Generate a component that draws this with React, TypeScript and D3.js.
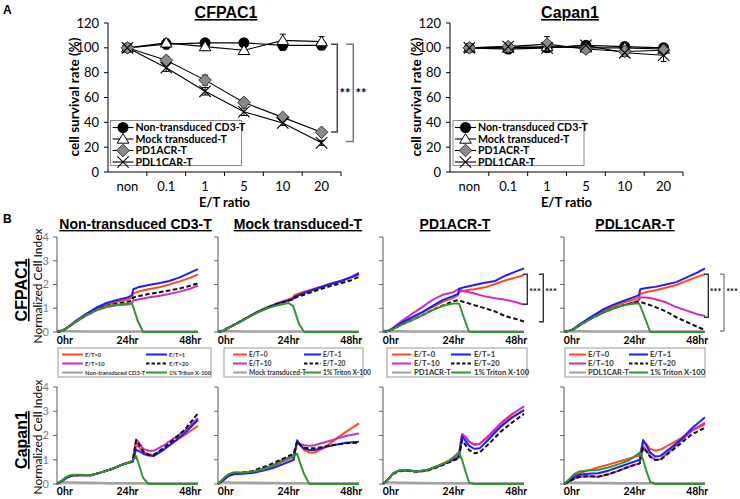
import React from 'react';
import * as d3 from 'd3';

// ---------------- Panel A data ----------------
const ratioLabels = ['non', '0.1', '1', '5', '10', '20'];
const seriesNamesA = ['Non-transduced CD3-T', 'Mock transduced-T', 'PD1ACR-T', 'PDL1CAR-T'];
const yTicksA = [0, 20, 40, 60, 80, 100, 120];

const cfpacNonTrans = [100, 103, 104, 104, 102, 102];
const cfpacNonTransErr = [2, 4, 3, 3, 4, 3];
const cfpacMock = [100, 104, 101, 98, 106, 105];
const cfpacMockErr = [3, 3, 3, 3, 5, 4];
const cfpacPD1ACR = [100, 90, 74, 56, 44, 32];
const cfpacPD1ACRErr = [2, 3, 4, 3, 2, 2];
const cfpacPDL1CAR = [100, 84, 65, 48.5, 39.5, 23.5];
const cfpacPDL1CARErr = [2, 3, 3, 3, 2, 2];

const capanNonTrans = [100, 99, 100, 102, 101, 100];
const capanNonTransErr = [3, 3, 3, 3, 3, 3];
const capanMock = [100, 100, 101, 100, 100, 99];
const capanMockErr = [3, 3, 3, 3, 3, 3];
const capanPD1ACR = [100, 101, 103, 99, 97, 98];
const capanPD1ACRErr = [3, 3, 6, 3, 3, 3];
const capanPDL1CAR = [100, 101, 100, 102, 96, 94];
const capanPDL1CARErr = [2, 3, 3, 3, 3, 5];

// ---------------- Panel B data ----------------
const colTitles = ['Non-transduced CD3-T', 'Mock transduced-T', 'PD1ACR-T', 'PDL1CAR-T'];
const etLabels = ['E/T=0', 'E/T=1', 'E/T=10', 'E/T=20'];
const tritonLabel = '1% Triton X-100';
const hourTicks = [0, 24, 48];
const ciTicks = [0, 1, 2, 3, 4];

const timeTop = [-3, -1, 0.5, 4, 8, 12, 16, 20, 24, 25.7, 26.2, 28, 30, 32, 36, 40, 44, 48, 51];
const timeBottom = [-3, -1, 1, 3, 6, 10, 14, 18, 22, 26, 27.3, 28.5, 30, 32, 34, 38, 42, 46, 51];

// CFPAC1 - Non-transduced CD3-T
const cfNonE0 = [0, 0.05, 0.15, 0.42, 0.72, 0.97, 1.15, 1.27, 1.36, 1.45, 1.62, 1.7, 1.75, 1.8, 1.88, 2.0, 2.13, 2.28, 2.42];
const cfNonE1 = [0, 0.05, 0.15, 0.45, 0.75, 1.02, 1.22, 1.35, 1.45, 1.55, 1.8, 1.88, 1.93, 1.98, 2.05, 2.15, 2.3, 2.5, 2.65];
const cfNonE10 = [0, 0.05, 0.14, 0.4, 0.68, 0.9, 1.05, 1.13, 1.16, 1.2, 1.33, 1.37, 1.41, 1.45, 1.52, 1.6, 1.7, 1.82, 1.95];
const cfNonE20 = [0, 0.05, 0.15, 0.42, 0.7, 0.93, 1.1, 1.2, 1.26, 1.32, 1.45, 1.5, 1.55, 1.6, 1.67, 1.75, 1.83, 1.95, 2.05];
const cfNonCtrl = [0.05, 0.05, 0.04, 0.03, 0.02, 0.02, 0.02, 0.02, 0.02, 0.02, 0.02, 0.02, 0.02, 0.02, 0.02, 0.02, 0.02, 0.02, 0.02];
const cfNonTriton = [0, 0.05, 0.15, 0.42, 0.7, 0.92, 1.08, 1.15, 1.2, 1.2, 1.05, 0.45, 0, 0, 0, 0, 0, 0, 0];

// CFPAC1 - Mock transduced-T
const cfMockE0 = [0, 0.05, 0.15, 0.35, 0.6, 0.85, 1.05, 1.22, 1.38, 1.45, 1.55, 1.62, 1.7, 1.76, 1.9, 2.03, 2.15, 2.3, 2.42];
const cfMockE1 = [0, 0.05, 0.15, 0.35, 0.6, 0.84, 1.03, 1.2, 1.33, 1.4, 1.48, 1.56, 1.65, 1.73, 1.88, 2.02, 2.15, 2.3, 2.45];
const cfMockE10 = [0, 0.05, 0.14, 0.33, 0.57, 0.82, 1.02, 1.19, 1.32, 1.38, 1.46, 1.55, 1.63, 1.71, 1.86, 2.0, 2.14, 2.32, 2.5];
const cfMockE20 = [0, 0.05, 0.15, 0.35, 0.6, 0.84, 1.03, 1.2, 1.32, 1.37, 1.43, 1.5, 1.57, 1.65, 1.8, 1.93, 2.05, 2.18, 2.32];
const cfMockCtrl = [0.04, 0.04, 0.03, 0.03, 0.02, 0.02, 0.02, 0.02, 0.02, 0.02, 0.02, 0.02, 0.02, 0.02, 0.02, 0.02, 0.02, 0.02, 0.02];
const cfMockTriton = [0, 0.05, 0.15, 0.34, 0.58, 0.82, 1.0, 1.13, 1.22, 1.1, 0.95, 0.35, 0, 0, 0, 0, 0, 0, 0];

// CFPAC1 - PD1ACR-T
const cfPD1E0 = [0, 0.05, 0.12, 0.36, 0.6, 0.82, 1.05, 1.28, 1.45, 1.55, 1.68, 1.74, 1.78, 1.8, 1.88, 2.02, 2.18, 2.3, 2.4];
const cfPD1E1 = [0, 0.05, 0.12, 0.38, 0.62, 0.84, 1.1, 1.35, 1.52, 1.6, 1.82, 1.88, 1.93, 1.98, 2.07, 2.15, 2.38, 2.55, 2.68];
const cfPD1E10 = [0, 0.05, 0.15, 0.45, 0.75, 1.05, 1.35, 1.57, 1.68, 1.8, 1.78, 1.72, 1.67, 1.62, 1.5, 1.42, 1.36, 1.25, 1.15];
const cfPD1E20 = [0, 0.04, 0.1, 0.3, 0.5, 0.7, 0.93, 1.12, 1.3, 1.34, 1.32, 1.26, 1.2, 1.13, 1.0, 0.86, 0.66, 0.55, 0.44];
const cfPD1Ctrl = [0.04, 0.04, 0.03, 0.03, 0.02, 0.02, 0.02, 0.02, 0.02, 0.02, 0.02, 0.02, 0.02, 0.02, 0.02, 0.02, 0.02, 0.02, 0.02];
const cfPD1Triton = [0, 0.04, 0.1, 0.3, 0.5, 0.7, 0.92, 1.1, 1.2, 1.2, 1.18, 0.6, 0, 0, 0, 0, 0, 0, 0];

// CFPAC1 - PDL1CAR-T
const cfPDL1E0 = [0, 0.05, 0.12, 0.38, 0.65, 0.9, 1.08, 1.24, 1.38, 1.45, 1.6, 1.66, 1.72, 1.76, 1.86, 1.98, 2.15, 2.32, 2.43];
const cfPDL1E1 = [0, 0.05, 0.12, 0.4, 0.68, 0.95, 1.15, 1.32, 1.48, 1.55, 1.8, 1.84, 1.87, 1.9, 2.0, 2.1, 2.3, 2.5, 2.68];
const cfPDL1E10 = [0, 0.05, 0.1, 0.35, 0.6, 0.82, 1.0, 1.13, 1.26, 1.35, 1.45, 1.45, 1.43, 1.38, 1.25, 1.05, 0.9, 0.75, 0.67];
const cfPDL1E20 = [0, 0.05, 0.1, 0.35, 0.6, 0.82, 1.0, 1.13, 1.24, 1.28, 1.27, 1.2, 1.13, 1.05, 0.87, 0.62, 0.42, 0.22, 0.08];
const cfPDL1Ctrl = [0.04, 0.04, 0.03, 0.03, 0.02, 0.02, 0.02, 0.02, 0.02, 0.02, 0.02, 0.02, 0.02, 0.02, 0.02, 0.02, 0.02, 0.02, 0.02];
const cfPDL1Triton = [0, 0.05, 0.1, 0.35, 0.6, 0.82, 1.0, 1.13, 1.2, 1.2, 1.1, 0.6, 0, 0, 0, 0, 0, 0, 0];

// Capan1 - Non-transduced CD3-T
const caNonE0 = [0, 0.15, 0.3, 0.36, 0.37, 0.36, 0.48, 0.62, 0.8, 0.96, 1.6, 1.5, 1.32, 1.22, 1.2, 1.45, 1.75, 2.02, 2.4];
const caNonE1 = [0, 0.12, 0.27, 0.35, 0.37, 0.36, 0.48, 0.62, 0.8, 0.93, 1.42, 1.35, 1.25, 1.17, 1.15, 1.42, 1.75, 2.1, 2.65];
const caNonE10 = [0, 0.15, 0.3, 0.36, 0.37, 0.36, 0.48, 0.62, 0.8, 0.95, 1.84, 1.7, 1.45, 1.37, 1.37, 1.6, 1.9, 2.2, 2.72];
const caNonE20 = [0, 0.15, 0.3, 0.36, 0.37, 0.36, 0.48, 0.62, 0.8, 0.92, 1.8, 1.6, 1.35, 1.22, 1.2, 1.5, 1.85, 2.25, 2.92];
const caNonCtrl = [0.06, 0.06, 0.06, 0.06, 0.05, 0.05, 0.04, 0.03, 0.03, 0.03, 0.03, 0.03, 0.03, 0.03, 0.03, 0.03, 0.03, 0.03, 0.03];
const caNonTriton = [0, 0.15, 0.32, 0.38, 0.38, 0.36, 0.48, 0.62, 0.8, 0.95, 1.15, 0.75, 0.25, 0, 0, 0, 0, 0, 0];

// Capan1 - Mock transduced-T
const caMockE0 = [0, 0.2, 0.38, 0.45, 0.45, 0.48, 0.58, 0.72, 0.92, 1.12, 1.75, 1.6, 1.4, 1.3, 1.3, 1.5, 1.85, 2.15, 2.5];
const caMockE1 = [0, 0.15, 0.33, 0.4, 0.42, 0.45, 0.55, 0.66, 0.82, 1.0, 1.8, 1.62, 1.45, 1.4, 1.4, 1.52, 1.62, 1.7, 1.74];
const caMockE10 = [0, 0.2, 0.38, 0.45, 0.45, 0.5, 0.62, 0.78, 1.0, 1.18, 1.72, 1.65, 1.6, 1.58, 1.6, 1.72, 1.85, 1.98, 2.08];
const caMockE20 = [0, 0.2, 0.38, 0.45, 0.47, 0.53, 0.68, 0.85, 1.05, 1.25, 1.75, 1.6, 1.5, 1.47, 1.47, 1.55, 1.62, 1.68, 1.7];
const caMockCtrl = [0.06, 0.06, 0.06, 0.05, 0.05, 0.05, 0.04, 0.04, 0.03, 0.03, 0.03, 0.03, 0.03, 0.03, 0.03, 0.03, 0.03, 0.03, 0.03];
const caMockTriton = [0, 0.22, 0.4, 0.48, 0.47, 0.5, 0.6, 0.75, 0.95, 1.15, 1.25, 0.85, 0.4, 0, 0, 0, 0, 0, 0];

// Capan1 - PD1ACR-T
const caPD1E0 = [0, 0.2, 0.45, 0.55, 0.58, 0.52, 0.58, 0.75, 0.95, 1.2, 2.05, 1.95, 1.75, 1.62, 1.65, 2.0, 2.4, 2.75, 3.05];
const caPD1E1 = [0, 0.2, 0.45, 0.55, 0.57, 0.52, 0.57, 0.72, 0.9, 1.1, 1.98, 1.8, 1.57, 1.45, 1.47, 1.9, 2.35, 2.7, 3.05];
const caPD1E10 = [0, 0.2, 0.45, 0.55, 0.57, 0.52, 0.58, 0.74, 0.93, 1.15, 2.06, 1.95, 1.75, 1.62, 1.66, 2.05, 2.5, 2.85, 3.2];
const caPD1E20 = [0, 0.2, 0.42, 0.52, 0.55, 0.5, 0.55, 0.7, 0.88, 1.05, 1.81, 1.62, 1.4, 1.27, 1.3, 1.7, 2.15, 2.5, 2.89];
const caPD1Ctrl = [0.06, 0.06, 0.06, 0.05, 0.05, 0.04, 0.04, 0.03, 0.03, 0.03, 0.03, 0.03, 0.03, 0.03, 0.03, 0.03, 0.03, 0.03, 0.03];
const caPD1Triton = [0, 0.2, 0.45, 0.55, 0.57, 0.52, 0.58, 0.74, 0.93, 1.3, 1.0, 0.55, 0.05, 0, 0, 0, 0, 0, 0];

// Capan1 - PDL1CAR-T
const caPDL1E0 = [0, 0.15, 0.35, 0.45, 0.55, 0.68, 0.8, 0.93, 1.05, 1.18, 1.74, 1.65, 1.45, 1.37, 1.42, 1.65, 1.9, 2.2, 2.46];
const caPDL1E1 = [0, 0.12, 0.3, 0.38, 0.42, 0.44, 0.55, 0.7, 0.85, 1.0, 1.81, 1.6, 1.3, 1.13, 1.16, 1.5, 1.85, 2.3, 2.75];
const caPDL1E10 = [0, 0.1, 0.22, 0.3, 0.32, 0.3, 0.4, 0.55, 0.72, 0.85, 1.55, 1.4, 1.15, 1.0, 1.02, 1.4, 1.8, 2.2, 2.53];
const caPDL1E20 = [0, 0.1, 0.22, 0.3, 0.32, 0.3, 0.4, 0.55, 0.72, 0.85, 1.5, 1.35, 1.12, 0.99, 1.0, 1.35, 1.7, 2.05, 2.32];
const caPDL1Ctrl = [0.06, 0.06, 0.05, 0.05, 0.05, 0.04, 0.04, 0.03, 0.03, 0.03, 0.03, 0.03, 0.03, 0.03, 0.03, 0.03, 0.03, 0.03, 0.03];
const caPDL1Triton = [0, 0.2, 0.42, 0.52, 0.56, 0.58, 0.68, 0.82, 0.98, 1.3, 1.0, 0.55, 0.1, 0, 0, 0, 0, 0, 0];

// ---------------- styles ----------------
const EXCEL_FONT = 'Lato, "Open Sans", "Liberation Sans", Arial, sans-serif';
const TITLE_FONT = '"Liberation Sans", Arial, sans-serif';
const C_ORANGE = '#ff4a1c';
const C_BLUE = '#1d1dff';
const C_MAGENTA = '#cc2fc0';
const C_BLACK = '#111';
const C_GRAY = '#a3a3a3';
const C_GREEN = '#2f972f';

// ---------------- Panel A ----------------
type MarkerKind = 'circle' | 'triangle' | 'diamond' | 'x';
const markerKinds: MarkerKind[] = ['circle', 'triangle', 'diamond', 'x'];

function Marker({ kind, cx, cy }: { kind: MarkerKind; cx: number; cy: number }) {
  if (kind === 'circle') return <circle cx={cx} cy={cy} r={5.5} fill="#000" />;
  if (kind === 'triangle') {
    const p = `M${cx},${cy - 5.5}L${cx + 5.8},${cy + 4.2}L${cx - 5.8},${cy + 4.2}Z`;
    return <path d={p} fill="#fff" stroke="#000" strokeWidth={1} />;
  }
  if (kind === 'diamond') {
    const h = 6.3;
    const p = `M${cx},${cy - h}L${cx + h},${cy}L${cx},${cy + h}L${cx - h},${cy}Z`;
    return <path d={p} fill="#8a8a8a" stroke="#333" strokeWidth={1} />;
  }
  const s = 5.7;
  return (
    <path
      d={`M${cx - s},${cy - s}L${cx + s},${cy + s}M${cx - s},${cy + s}L${cx + s},${cy - s}`}
      stroke="#000"
      strokeWidth={1.1}
      fill="none"
    />
  );
}

interface SurvivalProps {
  x0: number;
  x1: number;
  title: string;
  titleX: number;
  values: number[][];
  errors: number[][];
  legendX: number;
  brackets: { x: number; xs: number; top: number; bot: number; color: string; tx: number }[];
}

function SurvivalPanel({ x0, x1, title, titleX, values, errors, legendX, brackets }: SurvivalProps) {
  const y = d3.scaleLinear().domain([0, 120]).range([172, 23]);
  const x = d3.scaleBand<string>().domain(ratioLabels).range([x0, x1]);
  const cx = (c: string) => (x(c) as number) + x.bandwidth() / 2;
  const line = d3
    .line<number>()
    .x((_, i) => cx(ratioLabels[i]))
    .y((d) => y(d));
  const legendY = [127.5, 139, 150.5, 162];
  return (
    <g>
      <text x={titleX} y={18} textAnchor="middle" fontFamily={TITLE_FONT} fontWeight="bold" fontSize={16}
        style={{ textDecoration: 'underline' }}>{title}</text>
      {/* y axis */}
      <line x1={x0} x2={x0} y1={y(120)} y2={y(0)} stroke="#000" strokeWidth={1} />
      {yTicksA.map((t) => (
        <g key={t}>
          <line x1={x0 - 4} x2={x0} y1={y(t)} y2={y(t)} stroke="#000" />
          <text x={x0 - 9} y={y(t)} dy="0.35em" textAnchor="end" fontFamily={EXCEL_FONT} fontSize={13}>{t}</text>
        </g>
      ))}
      {/* x axis */}
      <line x1={x0} x2={x1} y1={y(0)} y2={y(0)} stroke="#000" />
      {ratioLabels.map((c, i) => (
        <g key={c}>
          {i > 0 && <line x1={x(c)} x2={x(c)} y1={y(0)} y2={y(0) + 4} stroke="#000" />}
          <text x={cx(c)} y={191} textAnchor="middle" fontFamily={EXCEL_FONT} fontSize={13}>{c}</text>
        </g>
      ))}
      <line x1={x1} x2={x1} y1={y(0)} y2={y(0) + 4} stroke="#000" />
      <text x={(x0 + x1) / 2} y={207} textAnchor="middle" fontFamily={EXCEL_FONT} fontWeight="bold" fontSize={13}>E/T ratio</text>
      <text transform={`translate(${x0 - 29},${97}) rotate(-90)`} textAnchor="middle" fontFamily={EXCEL_FONT}
        fontWeight="bold" fontSize={13.5}>cell survival rate (%)</text>
      {/* series */}
      {values.map((vals, si) => (
        <path key={'l' + si} d={line(vals) as string} fill="none" stroke="#000" strokeWidth={1.1} />
      ))}
      {values.map((vals, si) =>
        vals.map((v, i) => {
          const e = errors[si][i];
          const px = cx(ratioLabels[i]);
          return (
            <g key={`e${si}-${i}`} stroke="#000" strokeWidth={1}>
              <line x1={px} x2={px} y1={y(v - e)} y2={y(v + e)} />
              <line x1={px - 3} x2={px + 3} y1={y(v - e)} y2={y(v - e)} />
              <line x1={px - 3} x2={px + 3} y1={y(v + e)} y2={y(v + e)} />
            </g>
          );
        })
      )}
      {values.map((vals, si) =>
        vals.map((v, i) => <Marker key={`m${si}-${i}`} kind={markerKinds[si]} cx={cx(ratioLabels[i])} cy={y(v)} />)
      )}
      {/* brackets */}
      {brackets.map((b, i) => (
        <g key={'b' + i}>
          <path d={`M${b.xs},${y(b.top)}H${b.x}V${y(b.bot)}H${b.xs}`} fill="none" stroke={b.color} strokeWidth={1.5} />
          <text x={b.tx} y={98} textAnchor="middle" fontFamily={EXCEL_FONT} fontWeight="bold" fontSize={13}>**</text>
        </g>
      ))}
      {/* legend */}
      <rect x={legendX} y={120.5} width={131} height={45} fill="#fff" stroke="#8c8c8c" strokeWidth={1} />
      {seriesNamesA.map((n, i) => (
        <g key={n}>
          <line x1={legendX + 2} x2={legendX + 23} y1={legendY[i]} y2={legendY[i]} stroke="#000" strokeWidth={1.1} />
          <Marker kind={markerKinds[i]} cx={legendX + 12.5} cy={legendY[i]} />
          <text x={legendX + 25} y={legendY[i]} dy="0.35em" fontFamily={EXCEL_FONT} fontWeight="bold" fontSize={10.6}>{n}</text>
        </g>
      ))}
    </g>
  );
}

// ---------------- Panel B ----------------
const PW = 141;
const colXs = [57, 218, 383, 564];
const yTopScale = d3.scaleLinear().domain([0, 4]).range([332, 237]);
const yBotScale = d3.scaleLinear().domain([0, 4]).range([484, 387]);

interface CISeries {
  e0: number[];
  e1: number[];
  e10: number[];
  e20: number[];
  ctrl: number[];
  triton: number[];
}

interface BracketB {
  x: number;
  xs: number;
  top: number;
  bot: number;
  color: string;
  tx: number;
}

function CIPanel({ ax, yScale, times, s, showLabels, labelY, brackets }: {
  ax: number; yScale: d3.ScaleLinear<number, number>; times: number[]; s: CISeries; showLabels: boolean;
  labelY: number; brackets: BracketB[];
}) {
  const x = d3.scaleLinear().domain([-3, 51]).range([ax, ax + PW]);
  const line = d3
    .line<number>()
    .x((_, i) => x(times[i]))
    .y((d) => yScale(d));
  const curves: { d: number[]; c: string; dash?: string; w: number }[] = [
    { d: s.ctrl, c: C_GRAY, w: 2.6 },
    { d: s.e0, c: C_ORANGE, w: 2 },
    { d: s.e10, c: C_MAGENTA, w: 2 },
    { d: s.e1, c: C_BLUE, w: 2 },
    { d: s.e20, c: C_BLACK, w: 2, dash: '4.5,2.5' },
    { d: s.triton, c: C_GREEN, w: 2 },
  ];
  return (
    <g>
      <line x1={ax} x2={ax + PW} y1={yScale(0)} y2={yScale(0)} stroke="#c0c0c0" strokeWidth={1} />
      <line x1={ax} x2={ax} y1={yScale(4)} y2={yScale(0)} stroke="#555" strokeWidth={1} />
      {ciTicks.map((t) => (
        <g key={t}>
          <line x1={ax - 4} x2={ax} y1={yScale(t)} y2={yScale(t)} stroke="#666" strokeWidth={1} />
          {showLabels && (
            <text x={ax - 8} y={yScale(t)} dy="0.35em" textAnchor="end" fontFamily={EXCEL_FONT} fontSize={11} fill="#7a7a7a">{t}</text>
          )}
        </g>
      ))}
      {curves.map((c, i) => (
        <path key={i} d={line(c.d) as string} fill="none" stroke={c.c} strokeWidth={c.w} strokeDasharray={c.dash}
          strokeLinejoin="round" />
      ))}
      {hourTicks.map((h) => (
        <text key={h} x={x(h)} y={labelY} textAnchor="middle" fontFamily={EXCEL_FONT} fontWeight="bold" fontSize={10.5}>{h}hr</text>
      ))}
      {brackets.map((b, i) => (
        <g key={'bb' + i}>
          <path d={`M${b.xs},${yScale(b.top)}H${b.x}V${yScale(b.bot)}H${b.xs}`} fill="none" stroke={b.color} strokeWidth={1.4} />
          <text x={b.tx} y={294.5} textAnchor="middle" fontFamily={EXCEL_FONT} fontWeight="bold" fontSize={9}>***</text>
        </g>
      ))}
    </g>
  );
}

const legendLayout = [
  { dx: 1, w: 153, l0: 4, l1: 25, t0: 27, r0: 88, r1: 109, rt: 111, fs: 5.8 },
  { dx: 6, w: 139, l0: 9, l1: 23, t0: 25, r0: 80, r1: 97, rt: 99, fs: 6.6 },
  { dx: 4, w: 140, l0: 5, l1: 24, t0: 27, r0: 64, r1: 84, rt: 87, fs: 7.6 },
  { dx: 1, w: 140, l0: 4, l1: 21, t0: 23, r0: 64, r1: 83, rt: 85, fs: 7.6 },
];

function CILegend({ ax, idx, ctrlName }: { ax: number; idx: number; ctrlName: string }) {
  const L = legendLayout[idx];
  const rows = [354.5, 363.5, 372.5];
  const entries = [
    { label: etLabels[0], c: C_ORANGE, col: 0, row: 0 },
    { label: etLabels[1], c: C_BLUE, col: 1, row: 0 },
    { label: etLabels[2], c: C_MAGENTA, col: 0, row: 1 },
    { label: etLabels[3], c: C_BLACK, col: 1, row: 1, dash: '3.5,2' },
    { label: ctrlName, c: C_GRAY, col: 0, row: 2 },
    { label: tritonLabel, c: C_GREEN, col: 1, row: 2 },
  ];
  const bx = ax + L.dx;
  return (
    <g>
      <rect x={bx} y={348} width={L.w} height={29} fill="#fff" stroke="#9a9a9a" strokeWidth={1} />
      {entries.map((e) => {
        const x0 = bx + (e.col === 0 ? L.l0 : L.r0);
        const x1 = bx + (e.col === 0 ? L.l1 : L.r1);
        const tx = bx + (e.col === 0 ? L.t0 : L.rt);
        const y = rows[e.row];
        return (
          <g key={e.label}>
            <line x1={x0} x2={x1} y1={y} y2={y} stroke={e.c} strokeWidth={2} strokeDasharray={e.dash} />
            <text x={tx} y={y} dy="0.35em" fontFamily={EXCEL_FONT} fontWeight="bold" fontSize={L.fs} fill="#333">{e.label}</text>
          </g>
        );
      })}
    </g>
  );
}

const topSeries: CISeries[] = [
  { e0: cfNonE0, e1: cfNonE1, e10: cfNonE10, e20: cfNonE20, ctrl: cfNonCtrl, triton: cfNonTriton },
  { e0: cfMockE0, e1: cfMockE1, e10: cfMockE10, e20: cfMockE20, ctrl: cfMockCtrl, triton: cfMockTriton },
  { e0: cfPD1E0, e1: cfPD1E1, e10: cfPD1E10, e20: cfPD1E20, ctrl: cfPD1Ctrl, triton: cfPD1Triton },
  { e0: cfPDL1E0, e1: cfPDL1E1, e10: cfPDL1E10, e20: cfPDL1E20, ctrl: cfPDL1Ctrl, triton: cfPDL1Triton },
];
const bottomSeries: CISeries[] = [
  { e0: caNonE0, e1: caNonE1, e10: caNonE10, e20: caNonE20, ctrl: caNonCtrl, triton: caNonTriton },
  { e0: caMockE0, e1: caMockE1, e10: caMockE10, e20: caMockE20, ctrl: caMockCtrl, triton: caMockTriton },
  { e0: caPD1E0, e1: caPD1E1, e10: caPD1E10, e20: caPD1E20, ctrl: caPD1Ctrl, triton: caPD1Triton },
  { e0: caPDL1E0, e1: caPDL1E1, e10: caPDL1E10, e20: caPDL1E20, ctrl: caPDL1Ctrl, triton: caPDL1Triton },
];

const topBrackets: BracketB[][] = [
  [],
  [],
  [
    { x: 527.3, xs: 523, top: 2.43, bot: 1.17, color: '#333', tx: 535 },
    { x: 543.3, xs: 539, top: 2.43, bot: 0.43, color: '#333', tx: 551 },
  ],
  [
    { x: 708.3, xs: 704, top: 2.43, bot: 0.62, color: '#333', tx: 715.5 },
    { x: 724, xs: 720, top: 2.43, bot: 0.04, color: '#888', tx: 732 },
  ],
];
const titleCenters = [135.5, 298, 455, 635];

export default function App() {
  const cfValues = [cfpacNonTrans, cfpacMock, cfpacPD1ACR, cfpacPDL1CAR];
  const cfErrors = [cfpacNonTransErr, cfpacMockErr, cfpacPD1ACRErr, cfpacPDL1CARErr];
  const caValues = [capanNonTrans, capanMock, capanPD1ACR, capanPDL1CAR];
  const caErrors = [capanNonTransErr, capanMockErr, capanPD1ACRErr, capanPDL1CARErr];
  return (
    <svg width={740} height={499} style={{ position: 'absolute', left: 0, top: 0, background: '#fff' }}>
      <rect width={740} height={499} fill="#fff" />
      <text x={3} y={14} fontFamily={TITLE_FONT} fontWeight="bold" fontSize={12}>A</text>
      <text x={3} y={223} fontFamily={TITLE_FONT} fontWeight="bold" fontSize={12}>B</text>
      <SurvivalPanel x0={108} x1={341} title="CFPAC1" titleX={226} values={cfValues} errors={cfErrors} legendX={110.5}
        brackets={[
          { x: 337.3, xs: 331, top: 102.8, bot: 32.3, color: '#444', tx: 345 },
          { x: 353.3, xs: 346, top: 102.8, bot: 24.5, color: '#777', tx: 361 },
        ]} />
      <SurvivalPanel x0={450} x1={683} title="Capan1" titleX={570} values={caValues} errors={caErrors} legendX={453}
        brackets={[]} />

      {colTitles.map((t, i) => (
        <text key={t} x={titleCenters[i]} y={229} textAnchor="middle" fontFamily={TITLE_FONT} fontWeight="bold" fontSize={14}
          style={{ textDecoration: 'underline' }}>{t}</text>
      ))}
      {/* row labels */}
      <text transform="translate(27,290) rotate(-90)" textAnchor="middle" fontFamily={TITLE_FONT} fontWeight="bold" fontSize={16}
        style={{ textDecoration: 'underline' }}>CFPAC1</text>
      <text transform="translate(42,286) rotate(-90)" textAnchor="middle" fontFamily={EXCEL_FONT} fontSize={12}>Normalized Cell Index</text>
      <text transform="translate(27,440) rotate(-90)" textAnchor="middle" fontFamily={TITLE_FONT} fontWeight="bold" fontSize={16}
        style={{ textDecoration: 'underline' }}>Capan1</text>
      <text transform="translate(42,437) rotate(-90)" textAnchor="middle" fontFamily={EXCEL_FONT} fontSize={12}>Normalized Cell Index</text>

      {colXs.map((ax, i) => (
        <g key={'top' + i}>
          <CIPanel ax={ax} yScale={yTopScale} times={timeTop} s={topSeries[i]} showLabels={i === 0} labelY={343.5}
            brackets={topBrackets[i]} />
          <CILegend ax={ax} idx={i} ctrlName={colTitles[i]} />
          <CIPanel ax={ax} yScale={yBotScale} times={timeBottom} s={bottomSeries[i]} showLabels={i === 0} labelY={495}
            brackets={[]} />
        </g>
      ))}
    </svg>
  );
}
